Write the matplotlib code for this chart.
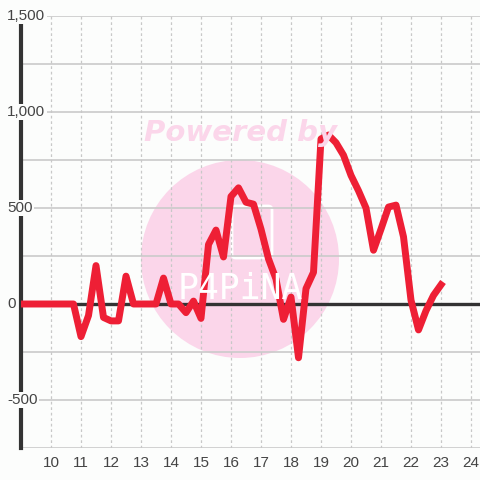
import matplotlib.pyplot as plt
from matplotlib.patches import Circle, FancyBboxPatch
from matplotlib.transforms import blended_transform_factory

# quarter-hour samples
hours = [9.0, 9.25, 9.5, 9.75, 10.0, 10.25, 10.5, 10.75,
         11.0, 11.25, 11.5, 11.75, 12.0, 12.25, 12.5, 12.75,
         13.0, 13.25, 13.5, 13.75, 14.0, 14.25, 14.5, 14.75,
         15.0, 15.25, 15.5, 15.75, 16.0, 16.25, 16.5, 16.75,
         17.0, 17.25, 17.5, 17.75, 18.0, 18.25, 18.5, 18.75,
         19.0, 19.25, 19.5, 19.75, 20.0, 20.25, 20.5, 20.75,
         21.0, 21.25, 21.5, 21.75, 22.0, 22.25, 22.5, 22.75, 23.0]
values = [0, 0, 0, 0, 0, 0, 0, 0,
          -170, -60, 200, -70, -88, -88, 145, 0,
          0, 0, 0, 135, 0, 0, -45, 15,
          -75, 310, 385, 245, 560, 605, 530, 520,
          390, 235, 130, -80, 36, -280, 80, 165,
          860, 880, 840, 775, 670, 590, 500, 280,
          390, 505, 515, 350, 20, -135, -35, 45, 100]

x_ticks = list(range(10, 25))
y_grid = [-750, -500, -250, 0, 250, 500, 750, 1000, 1250, 1500]
y_labels = {-500: '-500', 0: '0', 500: '500', 1000: '1,000', 1500: '1,500'}

bg = '#fcfdfc'
fig = plt.figure(figsize=(4.8, 4.8), dpi=100, facecolor=bg)
ax = fig.add_axes([21 / 480, 32 / 480, 459 / 480, 432 / 480])
ax.set_facecolor(bg)
ax.set_xlim(9, 24.3)
ax.set_ylim(-750, 1500)

for s in ax.spines.values():
    s.set_visible(False)

# grid
for yv in y_grid:
    ax.axhline(yv, color='#cacaca', lw=1.2, zorder=1)
for xv in x_ticks:
    ax.axvline(xv, color='#c8c8c8', lw=0.9, ls=(0, (2.2, 2.2)), zorder=1)

# watermark
pink = '#fbd6ea'
circ = Circle((0.5, 1 - 259 / 480), 99 / 480, transform=fig.transFigure,
              facecolor=pink, edgecolor='none', zorder=0)
ax.add_patch(circ)
icon = FancyBboxPatch((232 / 480, 1 - 258 / 480), 40 / 480, 52 / 480,
                      boxstyle='round,pad=0,rounding_size=0.008',
                      transform=fig.transFigure, facecolor='none',
                      edgecolor='white', lw=2, zorder=0)
ax.add_patch(icon)
fig.text(0.5, 1 - 133 / 480, 'Powered by', color=pink, fontsize=21,
         fontweight='bold', fontstyle='italic', ha='center', va='center',
         zorder=0)
fig.text(0.5, 1 - 289 / 480, 'P4PiNA', color='white', fontsize=25,
         family='DejaVu Sans Mono', ha='center', va='center', zorder=0)

ax.axhline(0, color='#333333', lw=2.4, zorder=2)
ax.plot([9, 9], [-750, 1460], color='#333333', lw=3, zorder=2, clip_on=False)

ax.plot(hours, values, color='#ee1f35', lw=5, solid_joinstyle='round',
        zorder=3)

ax.set_xticks(x_ticks)
ax.set_yticks([])
ax.tick_params(axis='x', length=0, pad=6, labelsize=11, labelcolor='#444444')
for lab in ax.get_xticklabels():
    lab.set_family('Liberation Sans')

tr = blended_transform_factory(fig.transFigure, ax.transData)
for yv, txt in y_labels.items():
    ax.text(7 / 480, yv, txt, transform=tr, ha='left', va='center',
            fontsize=11, color='#444444', family='Liberation Sans',
            bbox=dict(facecolor=bg, edgecolor='none', pad=1),
            zorder=5, clip_on=False)

fig.savefig('out.png', dpi=100, facecolor=bg)
